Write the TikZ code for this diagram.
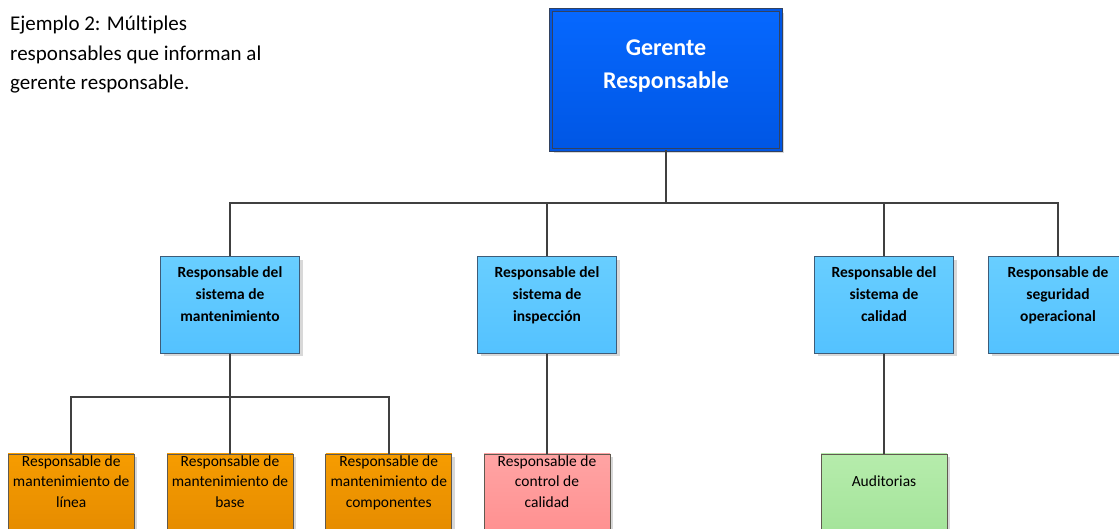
\documentclass[tikz,border=0pt]{standalone}
\usepackage{fontspec}
\setmainfont{Carlito}[Ligatures=NoCommon]
\usepackage{tikz}
\usetikzlibrary{shapes.geometric, arrows}
\usetikzlibrary{positioning, shadows}
\definecolor{gris}{RGB}{64,64,64}
\definecolor{bordegerente}{RGB}{50,66,96}
\definecolor{azulgerente}{RGB}{6,104,255}
\definecolor{azulgerenteb}{RGB}{0,86,228}
\definecolor{bordeazul}{RGB}{62,92,120}
\definecolor{celeste}{RGB}{104,206,255}
\definecolor{celesteb}{RGB}{84,194,255}
\definecolor{naranja}{RGB}{246,156,0}
\definecolor{naranjab}{RGB}{226,136,0}
\definecolor{rosa}{RGB}{255,164,164}
\definecolor{rosab}{RGB}{255,140,140}
\definecolor{verde}{RGB}{182,236,172}
\definecolor{verdeb}{RGB}{160,226,150}
\definecolor{bordecaja}{RGB}{96,90,80}
\tikzstyle{sombra} = [drop shadow={shadow xshift=3pt, shadow yshift=-3pt, fill=black!30}]
\tikzstyle{jefe} = [rectangle, inner sep=0pt, line width=1pt, draw=bordegerente, double=azulgerenteb, double distance=1.4pt, top color=azulgerente, bottom color=azulgerenteb, text=white, sombra, execute at begin node={\begin{minipage}[c][140pt][t]{230pt}\centering\vspace*{30pt}\fontsize{24}{33}\selectfont\bfseries}, execute at end node={\end{minipage}}]
\tikzstyle{resp} = [rectangle, inner sep=0pt, line width=1pt, draw=bordeazul, top color=celeste, bottom color=celesteb, sombra, execute at begin node={\begin{minipage}[c][96pt][t]{139pt}\centering\vspace*{9.5pt}\fontsize{15.5}{22}\selectfont\bfseries}, execute at end node={\end{minipage}}]
\tikzstyle{tarea} = [rectangle, inner sep=0pt, line width=0.8pt, draw=bordecaja, sombra, execute at begin node={\begin{minipage}[c][96pt][t]{126pt}\centering\vspace*{1.5pt}\fontsize{15.5}{20.5}\selectfont}, execute at end node={\end{minipage}}]
\tikzstyle{mantto} = [tarea, top color=naranja, bottom color=naranjab]
\tikzstyle{control} = [tarea, top color=rosa, bottom color=rosab]
\tikzstyle{audita} = [tarea, top color=verde, bottom color=verdeb]
\tikzstyle{conector} = [line width=1.8pt, draw=gris]
\begin{document}
\begin{tikzpicture}[x=1pt, y=-1pt]
\clip (0,0) rectangle (1119,529);
\node (titulo) [anchor=north west, inner sep=0pt, align=left, font=\fontsize{21}{29.5}\selectfont] at (10,16) {Ejemplo 2: Múltiples\\responsables que informan al\\gerente responsable.};
\node (gerente) [jefe] at (666,80) {Gerente\\Responsable};
\node (mant) [resp] at (230,305) {Responsable del\\sistema de\\mantenimiento};
\node (insp) [resp] at (547,305) {Responsable del\\sistema de\\inspección};
\node (cal) [resp] at (884,305) {Responsable del\\sistema de\\calidad};
\node (segur) [resp] at (1058,305) {Responsable de\\seguridad\\operacional};
\node (base) [mantto, below=100pt of mant] {Responsable de\\mantenimiento de\\base};
\node (linea) [mantto, left=32pt of base] {Responsable de\\mantenimiento de\\línea};
\node (comp) [mantto, right=32pt of base] {Responsable de\\mantenimiento de\\componentes};
\node (ctrl) [control, below=100pt of insp] {Responsable de\\control de\\calidad};
\node (audit) [audita, below=100pt of cal] {\vspace*{20pt}Auditorias};

\coordinate (barra1) at (666,203);
\coordinate (barra2) at (230,397);
\draw [conector] (gerente) -- (barra1);
\draw [conector] (barra1) -| (mant);
\draw [conector] (barra1) -| (segur);
\draw [conector] (insp |- barra1) -- (insp);
\draw [conector] (cal |- barra1) -- (cal);
\draw [conector] (mant) -- (barra2);
\draw [conector] (barra2) -| (linea);
\draw [conector] (barra2) -| (comp);
\draw [conector] (barra2) -- (base);
\draw [conector] (insp) -- (ctrl);
\draw [conector] (cal) -- (audit);
\end{tikzpicture}
\end{document}
